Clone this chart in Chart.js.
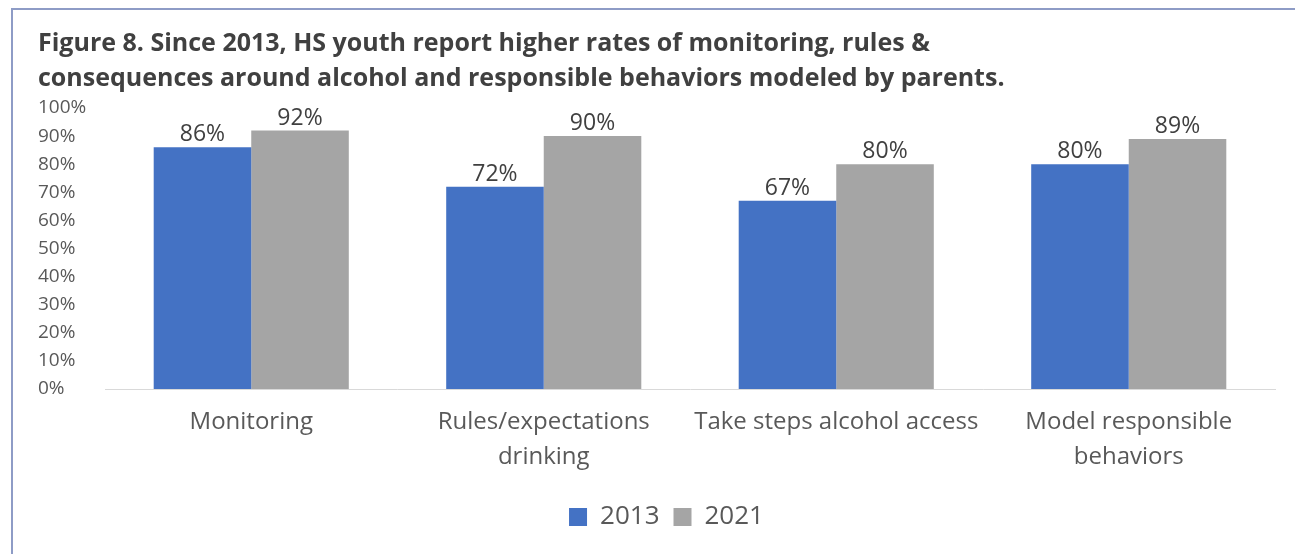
<!DOCTYPE html>
<html>
<head>
<meta charset="utf-8">
<script src="https://cdn.jsdelivr.net/npm/chart.js@4"></script>
<style>
  html, body { margin: 0; padding: 0; background: #fff; }
  #wrap { position: relative; width: 1295px; height: 554px; overflow: hidden; }
  #frame { position: absolute; left: 11px; top: 8px; width: 1400px; height: 700px; border: 2px solid #8e9cc6; }
  canvas { position: absolute; left: 0; top: 0; }
</style>
</head>
<body>
<div id="wrap">
  <div id="frame"></div>
  <canvas id="bar-chart" width="1295" height="554"></canvas>
</div>
<script>
// chart data
var categories = [["Monitoring"], ["Rules/expectations", "drinking"], ["Take steps alcohol access"], ["Model responsible", "behaviors"]];
var years = ["2013", "2021"];
var values2013 = [86, 72, 67, 80];
var values2021 = [92, 90, 80, 89];
var yTicks = [0, 10, 20, 30, 40, 50, 60, 70, 80, 90, 100];

var fontFamily = "'Open Sans', 'Noto Sans', sans-serif";

// draw value labels above each bar
var barLabels = {
    id: "barLabels",
    afterDatasetsDraw: function (chart) {
        var ctx = chart.ctx;
        ctx.save();
        ctx.font = "23px " + fontFamily;
        ctx.fillStyle = "#404040";
        ctx.textAlign = "center";
        ctx.textBaseline = "bottom";
        chart.data.datasets.forEach(function (ds, i) {
            chart.getDatasetMeta(i).data.forEach(function (bar, j) {
                ctx.fillText(ds.data[j] + "%", bar.x, bar.y - 1);
            });
        });
        ctx.restore();
    },
};

// nudge the legend a little to the right, like the original
var legendShift = {
    id: "legendShift",
    afterLayout: function (chart) {
        chart.legend.left += 10;
        chart.legend.right += 10;
    },
};

var ctx = document.getElementById("bar-chart");

var chart1 = new Chart(ctx, {
    type: "bar",
    data: {
        labels: categories,
        datasets: [
            { label: years[0], data: values2013, backgroundColor: "#4472c4" },
            { label: years[1], data: values2021, backgroundColor: "#a5a5a5" },
        ],
    },
    options: {
        responsive: false,
        animation: false,
        devicePixelRatio: 1,
        layout: { padding: { left: 38, right: 20, top: 26, bottom: 14 } },
        datasets: { bar: { categoryPercentage: 0.667, barPercentage: 1 } },
        plugins: {
            tooltip: { enabled: false },
            title: {
                display: true,
                align: "start",
                text: [
                    "Figure 8. Since 2013, HS youth report higher rates of monitoring, rules &",
                    "consequences around alcohol and responsible behaviors modeled by parents.",
                ],
                color: "#404040",
                font: { family: fontFamily, size: 25, weight: "bold", lineHeight: "35px" },
                padding: { top: 0, bottom: 12 },
            },
            legend: {
                position: "bottom",
                labels: {
                    color: "#595959",
                    font: { family: fontFamily, size: 26 },
                    boxWidth: 18,
                    boxHeight: 18,
                    padding: 14,
                },
            },
        },
        scales: {
            x: {
                grid: { display: false },
                border: { display: true, color: "#d9d9d9", width: 1 },
                afterFit: function (scale) { scale.height += 7; },
                ticks: {
                    color: "#595959",
                    font: { family: fontFamily, size: 24, lineHeight: "35px" },
                    maxRotation: 0,
                    autoSkip: false,
                    padding: 8,
                },
            },
            y: {
                min: 0,
                max: 100,
                afterBuildTicks: function (scale) {
                    scale.ticks = yTicks.map(function (v) { return { value: v }; });
                },
                afterFit: function (scale) { scale.width = 67; },
                grid: { display: false },
                border: { display: false },
                ticks: {
                    crossAlign: "far",
                    color: "#595959",
                    font: { family: fontFamily, size: 19 },
                    callback: function (v) { return v + "%"; },
                },
            },
        },
    },
    plugins: [barLabels, legendShift],
});
</script>
</body>
</html>
